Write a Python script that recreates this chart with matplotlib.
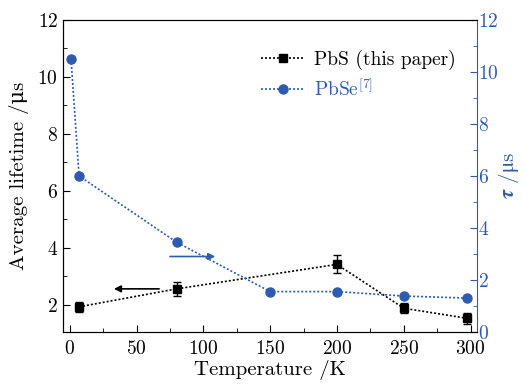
import matplotlib
matplotlib.use("Agg")
import matplotlib.pyplot as plt
from matplotlib.lines import Line2D
from matplotlib.ticker import MultipleLocator

plt.rcParams["font.family"] = ["cmr10", "DejaVu Serif"]
plt.rcParams["mathtext.fontset"] = "cm"
plt.rcParams["axes.formatter.use_mathtext"] = True

BLUE = "#2d5bb0"

# PbS (this paper), left axis
pbs_temp = [7, 80, 200, 250, 297]
pbs_life = [1.93, 2.56, 3.42, 1.88, 1.53]
pbs_err = [0.18, 0.25, 0.32, 0.17, 0.2]

# PbSe [7], right axis
pbse_temp = [1, 7, 80, 150, 200, 250, 297]
pbse_tau = [10.5, 6.0, 3.45, 1.55, 1.55, 1.38, 1.3]

DOT = (0, (1.2, 1.2))

fig = plt.figure(figsize=(5.23, 3.85), dpi=100)
ax = fig.add_axes([0.1205, 0.138, 0.792, 0.81])
ax2 = ax.twinx()

ax.errorbar(pbs_temp, pbs_life, yerr=pbs_err, color="black", ls=DOT,
            lw=1.2, marker="s", ms=6, capsize=3, elinewidth=1, capthick=1)
ax2.plot(pbse_temp, pbse_tau, color=BLUE, ls=DOT, lw=1.2, marker="o", ms=6.5)

ax.set_xlim(-5, 305)
ax.set_ylim(1.05, 12)
ax2.set_ylim(0, 12)

ax.xaxis.set_major_locator(MultipleLocator(50))
ax.xaxis.set_minor_locator(MultipleLocator(25))
ax.yaxis.set_major_locator(MultipleLocator(2))
ax.yaxis.set_minor_locator(MultipleLocator(1))
ax2.yaxis.set_major_locator(MultipleLocator(2))
ax2.yaxis.set_minor_locator(MultipleLocator(1))

ax.tick_params(axis="both", which="both", direction="in", labelsize=14, top=False)
ax.tick_params(axis="x", which="both", pad=6)
ax.tick_params(which="major", length=5)
ax.tick_params(which="minor", length=3)
ax2.tick_params(axis="y", which="both", direction="in", labelsize=14, colors=BLUE, pad=0.5)
ax2.tick_params(which="major", length=5)
ax2.tick_params(which="minor", length=3)
ax2.spines["right"].set_color(BLUE)
ax.spines["right"].set_visible(False)

ax.set_xlabel("Temperature /K", fontsize=15, labelpad=1)
ax.set_ylabel("Average lifetime /μs", fontsize=15, labelpad=6)
tau_label = ax2.set_ylabel(r"$\boldsymbol{\tau}$ /$\mathrm{\mu}$s", fontsize=15, color=BLUE)
tau_label.set_math_fontfamily("stix")
ax2.yaxis.set_label_coords(1.048, 0.5)

# direction arrows
ax.annotate("", xy=(31, 2.56), xytext=(69, 2.56),
            arrowprops=dict(arrowstyle="-|>", color="black", lw=1.2, mutation_scale=10))
ax2.annotate("", xy=(111, 2.9), xytext=(73, 2.9),
             arrowprops=dict(arrowstyle="-|>", color=BLUE, lw=1.2, mutation_scale=10))

handles = [
    Line2D([], [], color="black", ls=DOT, lw=1.2, marker="s", ms=6),
    Line2D([], [], color=BLUE, ls=DOT, lw=1.2, marker="o", ms=6.5),
]
leg = ax.legend(handles, ["PbS (this paper)", r"PbSe$^{[7]}$"], loc="upper right",
                bbox_to_anchor=(0.99, 0.96), frameon=False, fontsize=14,
                handlelength=2.2, handletextpad=0.5, labelspacing=0.4)
leg.get_texts()[1].set_color(BLUE)

fig.savefig("out.png", dpi=100)
